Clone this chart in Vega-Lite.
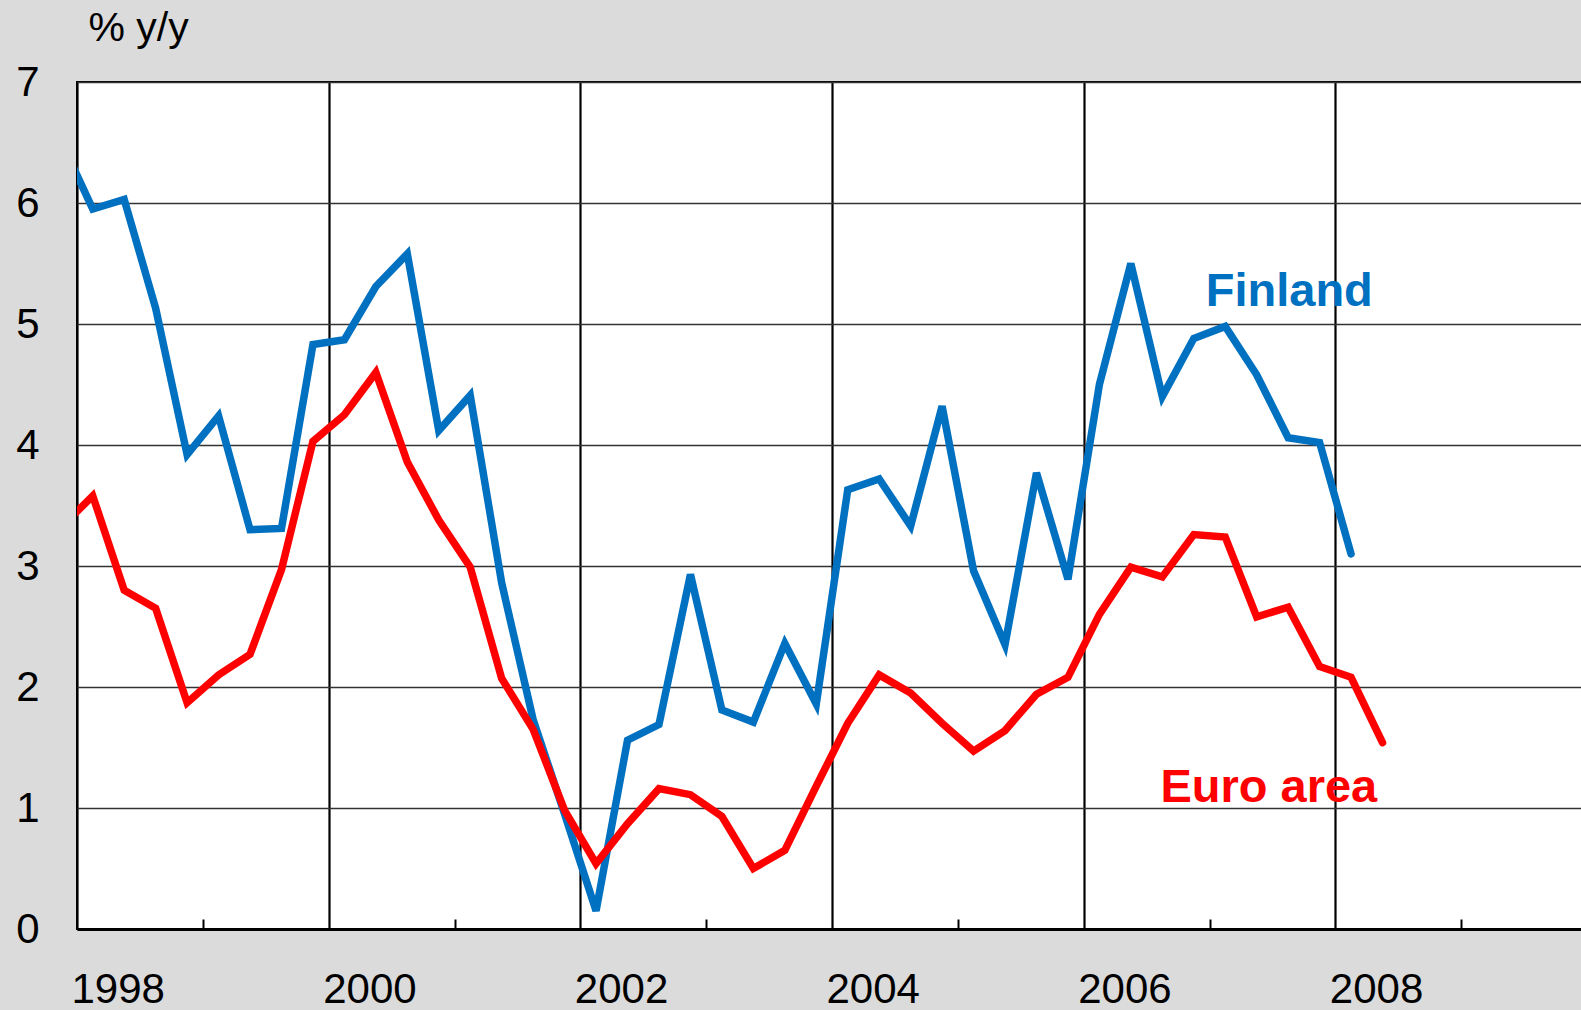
{
  "$schema": "https://vega.github.io/schema/vega-lite/v6.json",
  "autosize": "none",
  "padding": {"left": 77, "top": 82, "right": 0, "bottom": 81},
  "width": 1510,
  "height": 847,
  "background": "#dbdbdb",
  "config": {
    "view": {"stroke": "black", "strokeWidth": 2, "fill": "white"},
    "font": "Liberation Sans"
  },
  "datasets": {
    "series": [
      {"t": 1997.875, "series": "Finland", "v": 6.51},
      {"t": 1998.125, "series": "Finland", "v": 5.95},
      {"t": 1998.375, "series": "Finland", "v": 6.03},
      {"t": 1998.625, "series": "Finland", "v": 5.13},
      {"t": 1998.875, "series": "Finland", "v": 3.92},
      {"t": 1999.125, "series": "Finland", "v": 4.24},
      {"t": 1999.375, "series": "Finland", "v": 3.3},
      {"t": 1999.625, "series": "Finland", "v": 3.31},
      {"t": 1999.875, "series": "Finland", "v": 4.83},
      {"t": 2000.125, "series": "Finland", "v": 4.87},
      {"t": 2000.375, "series": "Finland", "v": 5.31},
      {"t": 2000.625, "series": "Finland", "v": 5.58},
      {"t": 2000.875, "series": "Finland", "v": 4.12},
      {"t": 2001.125, "series": "Finland", "v": 4.41},
      {"t": 2001.375, "series": "Finland", "v": 2.86},
      {"t": 2001.625, "series": "Finland", "v": 1.73},
      {"t": 2001.875, "series": "Finland", "v": 0.95},
      {"t": 2002.125, "series": "Finland", "v": 0.15},
      {"t": 2002.375, "series": "Finland", "v": 1.56},
      {"t": 2002.625, "series": "Finland", "v": 1.69},
      {"t": 2002.875, "series": "Finland", "v": 2.93},
      {"t": 2003.125, "series": "Finland", "v": 1.81},
      {"t": 2003.375, "series": "Finland", "v": 1.71},
      {"t": 2003.625, "series": "Finland", "v": 2.36},
      {"t": 2003.875, "series": "Finland", "v": 1.86},
      {"t": 2004.125, "series": "Finland", "v": 3.63},
      {"t": 2004.375, "series": "Finland", "v": 3.72},
      {"t": 2004.625, "series": "Finland", "v": 3.33},
      {"t": 2004.875, "series": "Finland", "v": 4.32},
      {"t": 2005.125, "series": "Finland", "v": 2.96},
      {"t": 2005.375, "series": "Finland", "v": 2.35},
      {"t": 2005.625, "series": "Finland", "v": 3.77},
      {"t": 2005.875, "series": "Finland", "v": 2.89},
      {"t": 2006.125, "series": "Finland", "v": 4.5},
      {"t": 2006.375, "series": "Finland", "v": 5.5},
      {"t": 2006.625, "series": "Finland", "v": 4.4},
      {"t": 2006.875, "series": "Finland", "v": 4.88},
      {"t": 2007.125, "series": "Finland", "v": 4.98},
      {"t": 2007.375, "series": "Finland", "v": 4.58},
      {"t": 2007.625, "series": "Finland", "v": 4.06},
      {"t": 2007.875, "series": "Finland", "v": 4.02},
      {"t": 2008.125, "series": "Finland", "v": 3.1},
      {"t": 1997.875, "series": "Euro area", "v": 3.32},
      {"t": 1998.125, "series": "Euro area", "v": 3.58},
      {"t": 1998.375, "series": "Euro area", "v": 2.8},
      {"t": 1998.625, "series": "Euro area", "v": 2.65},
      {"t": 1998.875, "series": "Euro area", "v": 1.87},
      {"t": 1999.125, "series": "Euro area", "v": 2.1},
      {"t": 1999.375, "series": "Euro area", "v": 2.27},
      {"t": 1999.625, "series": "Euro area", "v": 2.97},
      {"t": 1999.875, "series": "Euro area", "v": 4.03},
      {"t": 2000.125, "series": "Euro area", "v": 4.25},
      {"t": 2000.375, "series": "Euro area", "v": 4.6},
      {"t": 2000.625, "series": "Euro area", "v": 3.86},
      {"t": 2000.875, "series": "Euro area", "v": 3.38},
      {"t": 2001.125, "series": "Euro area", "v": 2.99},
      {"t": 2001.375, "series": "Euro area", "v": 2.07},
      {"t": 2001.625, "series": "Euro area", "v": 1.65},
      {"t": 2001.875, "series": "Euro area", "v": 0.98},
      {"t": 2002.125, "series": "Euro area", "v": 0.54},
      {"t": 2002.375, "series": "Euro area", "v": 0.87},
      {"t": 2002.625, "series": "Euro area", "v": 1.16},
      {"t": 2002.875, "series": "Euro area", "v": 1.11},
      {"t": 2003.125, "series": "Euro area", "v": 0.93},
      {"t": 2003.375, "series": "Euro area", "v": 0.5},
      {"t": 2003.625, "series": "Euro area", "v": 0.65},
      {"t": 2003.875, "series": "Euro area", "v": 1.18},
      {"t": 2004.125, "series": "Euro area", "v": 1.7},
      {"t": 2004.375, "series": "Euro area", "v": 2.1},
      {"t": 2004.625, "series": "Euro area", "v": 1.95},
      {"t": 2004.875, "series": "Euro area", "v": 1.7},
      {"t": 2005.125, "series": "Euro area", "v": 1.47},
      {"t": 2005.375, "series": "Euro area", "v": 1.64},
      {"t": 2005.625, "series": "Euro area", "v": 1.94},
      {"t": 2005.875, "series": "Euro area", "v": 2.08},
      {"t": 2006.125, "series": "Euro area", "v": 2.6},
      {"t": 2006.375, "series": "Euro area", "v": 2.99},
      {"t": 2006.625, "series": "Euro area", "v": 2.91},
      {"t": 2006.875, "series": "Euro area", "v": 3.26},
      {"t": 2007.125, "series": "Euro area", "v": 3.24},
      {"t": 2007.375, "series": "Euro area", "v": 2.58},
      {"t": 2007.625, "series": "Euro area", "v": 2.66},
      {"t": 2007.875, "series": "Euro area", "v": 2.17},
      {"t": 2008.125, "series": "Euro area", "v": 2.08},
      {"t": 2008.375, "series": "Euro area", "v": 1.54}
    ],
    "labels": [
      {"t": 2006.97, "series": "Finland", "v": 5.15},
      {"t": 2006.61, "series": "Euro area", "v": 1.05}
    ]
  },
  "encoding": {
    "x": {
      "field": "t", "type": "quantitative",
      "scale": {"domain": [1998, 2010], "nice": false, "zero": false},
      "axis": {
        "title": null,
        "values": [1998, 1999, 2000, 2001, 2002, 2003, 2004, 2005, 2006, 2007, 2008, 2009, 2010],
        "grid": true,
        "gridColor": "black",
        "gridWidth": 2.2,
        "gridOpacity": {"condition": {"test": "datum.value % 2 !== 0", "value": 0}, "value": 1},
        "ticks": true,
        "tickSize": -10,
        "tickWidth": 2,
        "tickColor": "black",
        "tickOpacity": {"condition": {"test": "datum.value % 2 !== 0", "value": 1}, "value": 0},
        "domain": true,
        "domainColor": "black",
        "domainWidth": 3,
        "labelExpr": "datum.value % 2 === 0 && datum.value < 2010 ? '' + datum.value : ''",
        "labelAlign": "left",
        "labelBaseline": "top",
        "labelFontSize": 42,
        "labelColor": "black",
        "labelPadding": 50,
        "labelOffset": -6,
        "labelFlush": false,
        "labelOverlap": false,
        "labelBound": false
      }
    },
    "y": {
      "field": "v", "type": "quantitative",
      "scale": {"domain": [0, 7], "nice": false},
      "axis": {
        "values": [0, 1, 2, 3, 4, 5, 6, 7],
        "grid": true,
        "gridColor": "#333333",
        "gridWidth": 1.6,
        "ticks": false,
        "domain": false,
        "labelFontSize": 42,
        "labelColor": "black",
        "labelPadding": 38,
        "title": "% y/y",
        "titleAngle": 0,
        "titleX": 11,
        "titleY": -42,
        "titleAlign": "left",
        "titleBaseline": "alphabetic",
        "titleFontSize": 41,
        "titleFontWeight": "normal",
        "titleColor": "black"
      }
    },
    "color": {
      "field": "series", "type": "nominal",
      "scale": {"domain": ["Finland", "Euro area"], "range": ["#0070C0", "#FF0000"]},
      "legend": null
    }
  },
  "layer": [
    {
      "data": {"name": "series"},
      "transform": [{"filter": "datum.series === 'Finland'"}],
      "mark": {"type": "line", "strokeWidth": 7.5, "strokeCap": "round", "strokeJoin": "miter", "clip": true}
    },
    {
      "data": {"name": "series"},
      "transform": [{"filter": "datum.series === 'Euro area'"}],
      "mark": {"type": "line", "strokeWidth": 7.5, "strokeCap": "round", "strokeJoin": "miter", "clip": true}
    },
    {
      "data": {"name": "labels"},
      "mark": {"type": "text", "align": "left", "baseline": "alphabetic", "fontSize": 47, "fontWeight": "bold", "font": "Liberation Sans"},
      "encoding": {"text": {"field": "series"}}
    }
  ]
}
